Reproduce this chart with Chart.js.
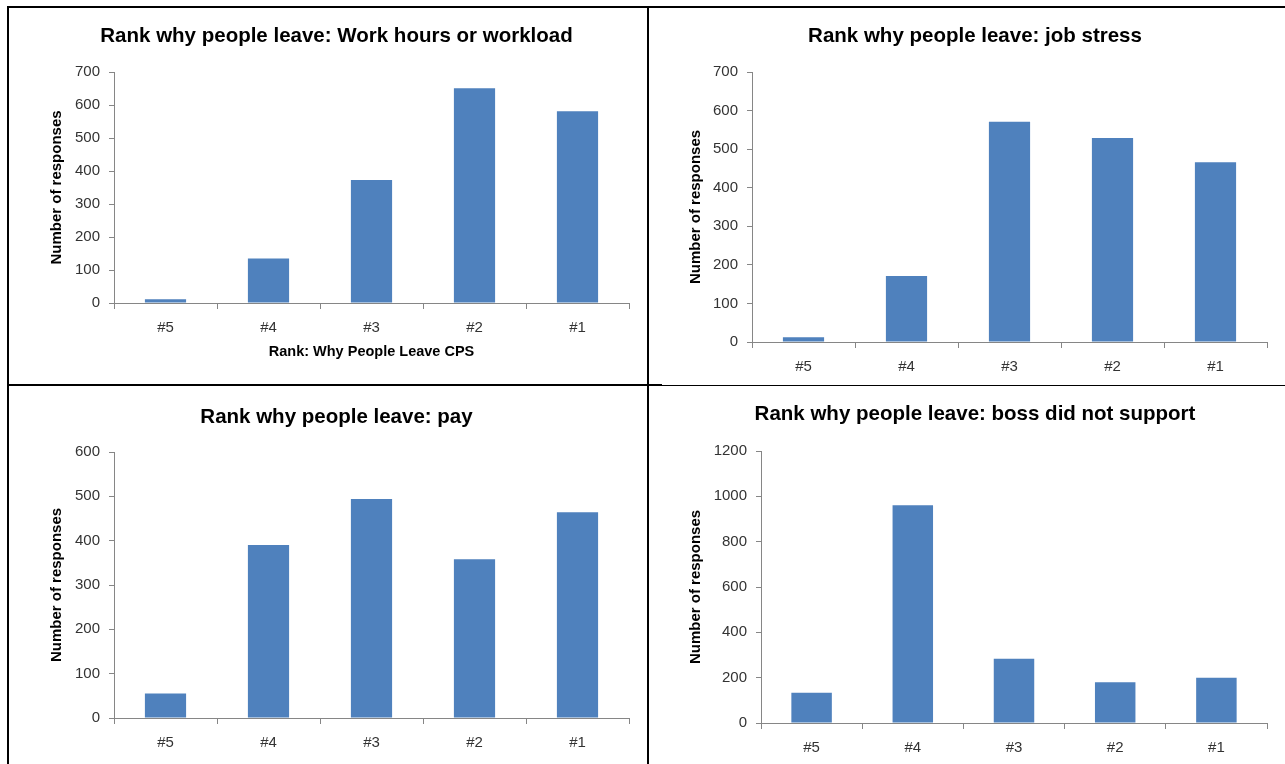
<!DOCTYPE html>
<html>
<head>
<meta charset="utf-8">
<script src="https://cdn.jsdelivr.net/npm/chart.js@4"></script>
<style>
  body { margin: 0; background: #fff; }
  .wrap { position: relative; width: 1285px; height: 764px; overflow: hidden; }
  canvas { position: absolute; }
  .line { position: absolute; background: #000; }
</style>
</head>
<body>
<div class="wrap">
  <canvas id="workloadChart" width="640" height="378" style="left:8px;top:7px"></canvas>
  <canvas id="stressChart" width="637" height="378" style="left:648px;top:7px"></canvas>
  <canvas id="payChart" width="640" height="379" style="left:8px;top:385px"></canvas>
  <canvas id="bossChart" width="637" height="379" style="left:648px;top:385px"></canvas>

  <!-- panel borders -->
  <div class="line" style="left:7px;top:6px;width:1278px;height:2px"></div>
  <div class="line" style="left:7px;top:6px;width:2px;height:758px"></div>
  <div class="line" style="left:647px;top:6px;width:2px;height:758px"></div>
  <div class="line" style="left:7px;top:384px;width:655px;height:2px"></div>
  <div class="line" style="left:660px;top:385px;width:625px;height:1px"></div>
</div>

<script>
// data
const ranks = ['#5', '#4', '#3', '#2', '#1'];
const workload = [11, 135, 373, 651, 581];
const jobStress = [12, 171, 571, 529, 466];
const pay = [55, 390, 494, 358, 464];
const bossSupport = [134, 961, 283, 180, 200];

Chart.defaults.font.family = "'Liberation Sans', Arial, sans-serif";
Chart.defaults.animation = false;

const barColor = '#4F81BD';
const axisColor = '#868686';
const textColor = '#333333';

function makeChart(id, title, values, yMax, yStep, cfg) {
  return new Chart(document.getElementById(id), {
    type: 'bar',
    data: {
      labels: ranks,
      datasets: [{
        data: values,
        backgroundColor: barColor,
        borderWidth: 0,
        barPercentage: 0.4,
        categoryPercentage: 1
      }]
    },
    options: {
      responsive: false,
      layout: { padding: { left: cfg.padLeft, right: cfg.padRight, top: 0, bottom: 0 } },
      plugins: {
        legend: { display: false },
        tooltip: { enabled: false },
        title: {
          display: true,
          text: title,
          color: '#000',
          font: { size: 20.5, weight: 'bold' },
          padding: { top: cfg.titleTop, bottom: cfg.titleBottom }
        }
      },
      scales: {
        x: {
          offset: true,
          grid: { display: true, drawOnChartArea: false, drawTicks: true, tickLength: 6, color: axisColor, offset: true },
          border: { display: true, color: axisColor, width: 1 },
          ticks: { color: textColor, font: { size: 15 }, padding: 10 },
          title: {
            display: !!cfg.xTitle,
            text: cfg.xTitle || '',
            color: '#000',
            font: { size: 14.5, weight: 'bold' },
            padding: { top: 0, bottom: 24 }
          },
          afterFit: function (scale) { scale.height = cfg.xHeight; }
        },
        y: {
          min: 0,
          max: yMax,
          grid: { display: true, drawOnChartArea: false, drawTicks: true, tickLength: 5, color: axisColor },
          border: { display: true, color: axisColor, width: 1 },
          ticks: {
            stepSize: yStep,
            color: textColor,
            font: { size: 15 },
            padding: 9,
            callback: function (v) { return String(v); }
          },
          title: {
            display: true,
            text: 'Number of responses',
            color: '#000',
            font: { size: 15, weight: 'bold' }
          },
          afterFit: function (scale) { scale.width = cfg.yWidth; }
        }
      }
    }
  });
}

makeChart('workloadChart', 'Rank why people leave: Work hours or workload', workload, 700, 100, {
  padLeft: 36, padRight: 19, yWidth: 70, xHeight: 82,
  titleTop: 17, titleBottom: 23.4, xTitle: 'Rank: Why People Leave CPS'
});

makeChart('stressChart', 'Rank why people leave: job stress', jobStress, 700, 100, {
  padLeft: 35, padRight: 18, yWidth: 69, xHeight: 43,
  titleTop: 17, titleBottom: 23.4
});

makeChart('payChart', 'Rank why people leave: pay', pay, 600, 100, {
  padLeft: 36, padRight: 19, yWidth: 70, xHeight: 46,
  titleTop: 20, titleBottom: 22.4
});

makeChart('bossChart', 'Rank why people leave: boss did not support', bossSupport, 1200, 200, {
  padLeft: 35, padRight: 18, yWidth: 78, xHeight: 41,
  titleTop: 17, titleBottom: 24.4
});
</script>
</body>
</html>
